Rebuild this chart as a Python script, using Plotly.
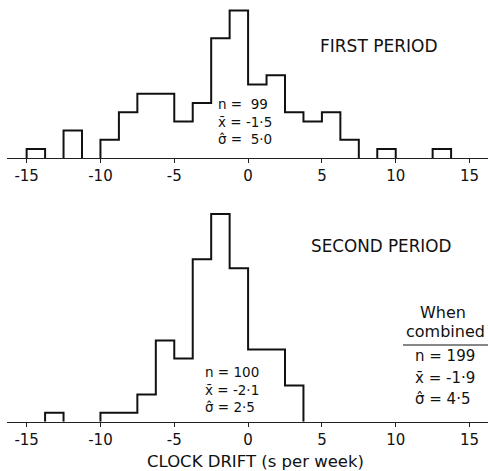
import plotly.graph_objects as go

# ---- data ----
bin_start = -15.0
bin_width = 1.25
first_counts = [1, 0, 3, 0, 2, 5, 7, 7, 4, 6, 13, 16, 8, 9, 5, 4, 5, 2, 0, 1, 0, 0, 1, 0]
second_counts = [0, 1, 0, 0, 1, 1, 3, 9, 7, 18, 23, 17, 8, 8, 4, 0, 0, 0, 0, 0, 0, 0, 0, 0]
tick_vals = [-15, -10, -5, 0, 5, 10, 15]
tick_text = ["-15", "-10", "-5", "0", "5", "10", "15"]
first_stats = ["n =  99", "x\u0304 = -1\u00b75", "\u03c3\u0302 =  5\u00b70"]
second_stats = ["n = 100", "x\u0304 = -2\u00b71", "\u03c3\u0302 = 2\u00b75"]
combined_stats = ["n = 199", "x\u0304 = -1\u00b79", "\u03c3\u0302 = 4\u00b75"]

W, H = 488, 471
ML = 7
FONT = "DejaVu Sans"


def X(px):
    return (px - ML) / (W - ML)


def Y(py):
    return 1 - py / H


def outline(counts):
    xs, ys = [], []
    n = len(counts)
    i = 0
    while i < n:
        if counts[i] == 0:
            i += 1
            continue
        xs.append(bin_start + i * bin_width)
        ys.append(0)
        j = i
        while j < n and counts[j] > 0:
            left = bin_start + j * bin_width
            xs += [left, left + bin_width]
            ys += [counts[j], counts[j]]
            j += 1
        xs.append(bin_start + j * bin_width)
        ys.append(0)
        xs.append(None)
        ys.append(None)
        i = j
    return xs, ys


fig = go.Figure()
x1, y1 = outline(first_counts)
x2, y2 = outline(second_counts)
fig.add_trace(go.Scatter(x=x1, y=y1, mode="lines", line=dict(color="#111", width=2),
                         xaxis="x", yaxis="y", hoverinfo="skip", showlegend=False))
fig.add_trace(go.Scatter(x=x2, y=y2, mode="lines", line=dict(color="#111", width=2),
                         xaxis="x2", yaxis="y2", hoverinfo="skip", showlegend=False))

xrange = [-16.33, 16.25]
base1, unit1 = 158.3, 9.23
base2, unit2, top2 = 421.7, 9.03, 200

xa = dict(range=xrange, domain=[0, 1], showline=True, linecolor="#222", linewidth=1,
          ticks="outside", ticklen=4, tickwidth=1, tickcolor="#222",
          tickvals=tick_vals, ticktext=tick_text,
          tickfont=dict(family=FONT, size=15, color="#111"),
          showgrid=False, zeroline=False, fixedrange=True, automargin=False)
xa_in = dict(range=xrange, domain=[0, 1], showline=False, ticks="inside", ticklen=3,
             tickwidth=1, tickcolor="#222", tickvals=tick_vals, showticklabels=False,
             showgrid=False, zeroline=False, fixedrange=True)

fig.update_layout(
    width=W, height=H,
    margin=dict(l=ML, r=0, t=0, b=0, autoexpand=False),
    paper_bgcolor="white", plot_bgcolor="white",
    xaxis=dict(anchor="y", **xa),
    yaxis=dict(domain=[Y(base1), 1], range=[0, base1 / unit1], visible=False, fixedrange=True),
    xaxis2=dict(anchor="y2", **xa),
    yaxis2=dict(domain=[Y(base2), Y(top2)], range=[0, (base2 - top2) / unit2],
                visible=False, fixedrange=True),
    xaxis3=dict(overlaying="x", anchor="y", **xa_in),
    xaxis4=dict(overlaying="x2", anchor="y2", **xa_in),
)

anns = []


def txt(text, px, py, size, xanchor="left"):
    anns.append(dict(text=text, x=X(px), y=Y(py), xref="paper", yref="paper",
                     xanchor=xanchor, yanchor="middle", align="left", showarrow=False,
                     font=dict(family=FONT, size=size, color="#111")))


txt("FIRST PERIOD", 378, 46.5, 17, "center")
txt("SECOND PERIOD", 381, 246, 16.8, "center")
txt("<br>".join(first_stats), 216, 122, 13.5)
txt("<br>".join(second_stats), 203, 389, 13.5)
txt("When", 443, 312.5, 16, "center")
txt("combined", 445, 331, 16, "center")
for s, py in zip(combined_stats, [356, 378, 399]):
    txt(s, 413, py, 15)
txt("CLOCK DRIFT (s per week)", 255, 461, 16.5, "center")

fig.update_layout(annotations=anns)
fig.add_shape(type="line", xref="paper", yref="paper", x0=X(403), x1=X(488),
              y0=Y(345), y1=Y(345), line=dict(color="#111", width=1.2))

fig.write_html("out.html")
